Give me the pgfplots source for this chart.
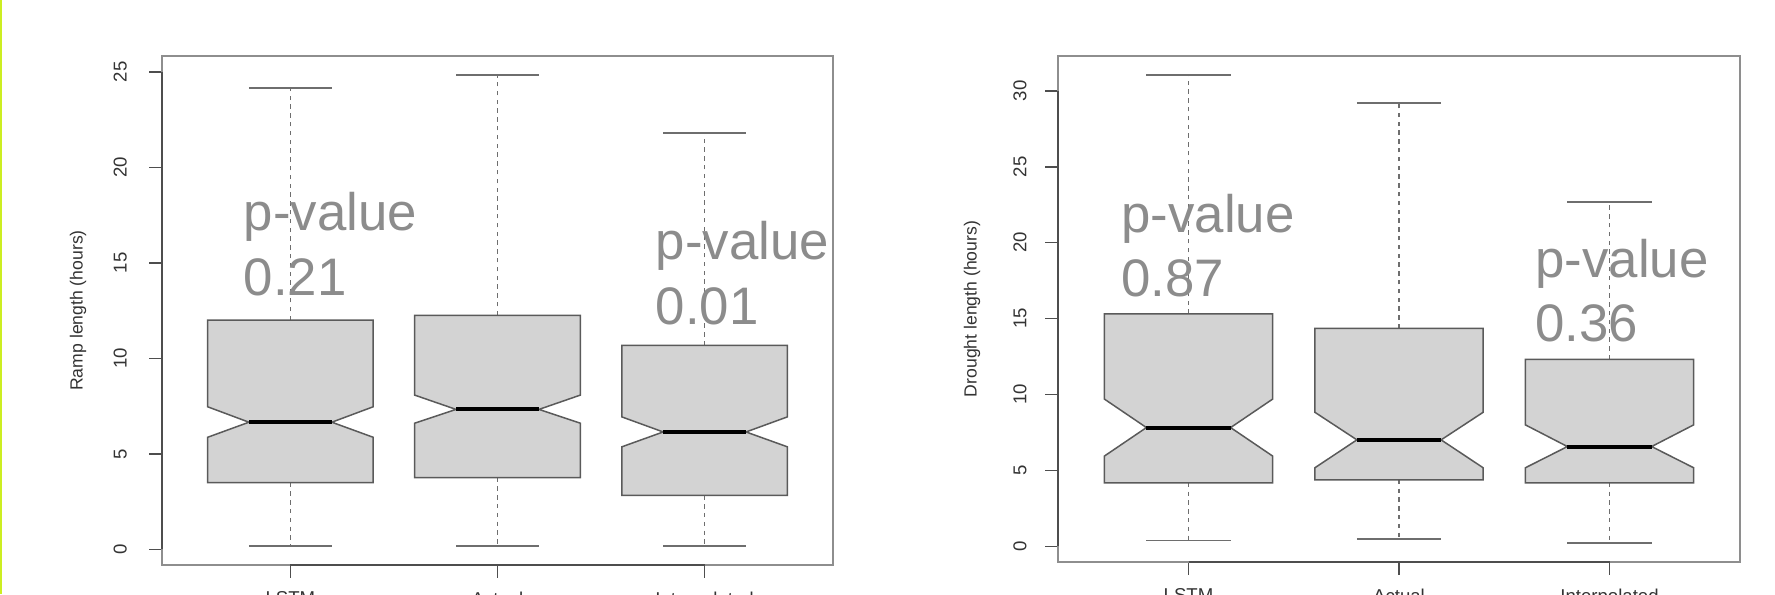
\documentclass[border=0pt]{standalone}
\usepackage{pgfplots}
\pgfplotsset{compat=1.18}
\usepackage{fontspec}
\setmainfont{Liberation Sans}
\definecolor{framegray}{HTML}{8E8E8E}
\definecolor{axdark}{HTML}{4E4E4E}
\definecolor{boxfill}{HTML}{D3D3D3}
\definecolor{boxedge}{HTML}{5A5A5A}
\definecolor{whisk}{HTML}{6E6E6E}
\definecolor{ptext}{HTML}{8C8C8C}
\definecolor{tlab}{HTML}{333333}
\definecolor{limeedge}{HTML}{CCEE22}
\newcommand{\pfont}{\fontsize{26.4}{31}\selectfont}
\newcommand{\tfont}{\fontsize{9.3}{10}\selectfont}
\newcommand{\lfont}{\fontsize{8.8}{10}\selectfont}
\pgfplotsset{
  rbox/.style={
    scale only axis, anchor=south west, clip=false,
    xmin=0.38, xmax=3.62,
    xtick={1,2,3}, xticklabels={LSTM,Actual,Interpolated},
    tick pos=left, tick align=outside, major tick length=6.3pt,
    tick style={draw=axdark, line width=0.8pt},
    axis line style={draw=framegray, line width=0.9pt},
    ticklabel style={font=\tfont, text=tlab},
    /pgf/number format/assume math mode=true,
    xticklabel style={anchor=north, inner sep=0pt, yshift=-7pt},
  },
  boxp/.style={draw=boxedge, fill=boxfill, line width=0.75pt, mark=none, forget plot},
  medp/.style={draw=black, line width=2pt, mark=none, forget plot},
  whp/.style={draw=whisk, line width=0.75pt, dash pattern=on 2.2pt off 2.2pt, mark=none, forget plot},
  stp/.style={draw=whisk, line width=0.8pt, mark=none, forget plot},
}
\tikzset{pval/.style={anchor=base west, inner sep=0pt, font=\pfont, text=ptext}}
\begin{document}
\begin{tikzpicture}
\fill[limeedge] (0,0) rectangle (1.2pt,297pt);
% ---------------- left panel ----------------
\begin{axis}[rbox, at={(81pt,14.5pt)}, width=335.5pt, height=254.5pt,
  ymin=-0.817, ymax=25.837, ytick={0,5,10,15,20,25},
  yticklabel style={xshift=-11.1pt, rotate=90, anchor=south, inner sep=0pt}]
% LSTM
\addplot[whp] coordinates {(1,12.01) (1,24.15)};
\addplot[whp] coordinates {(1,3.50) (1,0.17)};
\addplot[stp] coordinates {(0.8,24.15) (1.2,24.15)};
\addplot[stp] coordinates {(0.8,0.17) (1.2,0.17)};
\addplot[boxp] coordinates {(0.6,3.50) (0.6,5.87) (0.8,6.66) (0.6,7.47) (0.6,12.01) (1.4,12.01) (1.4,7.47) (1.2,6.66) (1.4,5.87) (1.4,3.50)} --cycle;
\addplot[medp] coordinates {(0.8,6.66) (1.2,6.66)};
% Actual
\addplot[whp] coordinates {(2,12.26) (2,24.85)};
\addplot[whp] coordinates {(2,3.76) (2,0.17)};
\addplot[stp] coordinates {(1.8,24.85) (2.2,24.85)};
\addplot[stp] coordinates {(1.8,0.17) (2.2,0.17)};
\addplot[boxp] coordinates {(1.6,3.76) (1.6,6.61) (1.8,7.33) (1.6,8.08) (1.6,12.26) (2.4,12.26) (2.4,8.08) (2.2,7.33) (2.4,6.61) (2.4,3.76)} --cycle;
\addplot[medp] coordinates {(1.8,7.33) (2.2,7.33)};
% Interpolated
\addplot[whp] coordinates {(3,10.68) (3,21.8)};
\addplot[whp] coordinates {(3,2.83) (3,0.17)};
\addplot[stp] coordinates {(2.8,21.8) (3.2,21.8)};
\addplot[stp] coordinates {(2.8,0.17) (3.2,0.17)};
\addplot[boxp] coordinates {(2.6,2.83) (2.6,5.37) (2.8,6.15) (2.6,6.94) (2.6,10.68) (3.4,10.68) (3.4,6.94) (3.2,6.15) (3.4,5.37) (3.4,2.83)} --cycle;
\addplot[medp] coordinates {(2.8,6.15) (3.2,6.15)};
\draw[axdark, line width=1pt] (axis cs:0.38,0) -- (axis cs:0.38,25);
\draw[axdark, line width=1pt] (axis cs:1,-0.817) -- (axis cs:3,-0.817);
\node[pval] at (axis cs:0.773,16.69) {p-value};
\node[pval] at (axis cs:0.773,13.32) {0.21};
\node[pval] at (axis cs:2.762,15.17) {p-value};
\node[pval] at (axis cs:2.762,11.80) {0.01};
\node[rotate=90, font=\lfont, text=tlab] at (axis description cs:-0.125,0.5) {Ramp length (hours)};
\end{axis}
% ---------------- right panel ----------------
\begin{axis}[rbox, at={(529pt,16pt)}, width=341pt, height=253pt,
  ymin=-1.034, ymax=32.294, ytick={0,5,10,15,20,25,30},
  yticklabel style={xshift=-9.2pt, rotate=90, anchor=south, inner sep=0pt}]
% LSTM
\addplot[whp] coordinates {(1,15.31) (1,31.06)};
\addplot[whp] coordinates {(1,4.18) (1,0.37)};
\addplot[stp] coordinates {(0.8,31.06) (1.2,31.06)};
\addplot[stp] coordinates {(0.8,0.37) (1.2,0.37)};
\addplot[boxp] coordinates {(0.6,4.18) (0.6,5.94) (0.8,7.82) (0.6,9.70) (0.6,15.31) (1.4,15.31) (1.4,9.70) (1.2,7.82) (1.4,5.94) (1.4,4.18)} --cycle;
\addplot[medp] coordinates {(0.8,7.82) (1.2,7.82)};
% Actual
\addplot[whp] coordinates {(2,14.35) (2,29.2)};
\addplot[whp] coordinates {(2,4.38) (2,0.48)};
\addplot[stp] coordinates {(1.8,29.2) (2.2,29.2)};
\addplot[stp] coordinates {(1.8,0.48) (2.2,0.48)};
\addplot[boxp] coordinates {(1.6,4.38) (1.6,5.17) (1.8,7.01) (1.6,8.83) (1.6,14.35) (2.4,14.35) (2.4,8.83) (2.2,7.01) (2.4,5.17) (2.4,4.38)} --cycle;
\addplot[medp] coordinates {(1.8,7.01) (2.2,7.01)};
% Interpolated
\addplot[whp] coordinates {(3,12.31) (3,22.67)};
\addplot[whp] coordinates {(3,4.18) (3,0.2)};
\addplot[stp] coordinates {(2.8,22.67) (3.2,22.67)};
\addplot[stp] coordinates {(2.8,0.2) (3.2,0.2)};
\addplot[boxp] coordinates {(2.6,4.18) (2.6,5.17) (2.8,6.57) (2.6,8.0) (2.6,12.31) (3.4,12.31) (3.4,8.0) (3.2,6.57) (3.4,5.17) (3.4,4.18)} --cycle;
\addplot[medp] coordinates {(2.8,6.57) (3.2,6.57)};
\draw[axdark, line width=1pt] (axis cs:0.38,0) -- (axis cs:0.38,30);
\draw[axdark, line width=1pt] (axis cs:1,-1.034) -- (axis cs:3,-1.034);
\node[pval] at (axis cs:0.679,20.68) {p-value};
\node[pval] at (axis cs:0.679,16.45) {0.87};
\node[pval] at (axis cs:2.646,17.70) {p-value};
\node[pval] at (axis cs:2.646,13.50) {0.36};
\node[rotate=90, font=\lfont, text=tlab] at (axis description cs:-0.126,0.5) {Drought length (hours)};
\end{axis}
\pgfresetboundingbox
\useasboundingbox (0,0) rectangle (887.5pt,297pt);
\end{tikzpicture}
\end{document}
